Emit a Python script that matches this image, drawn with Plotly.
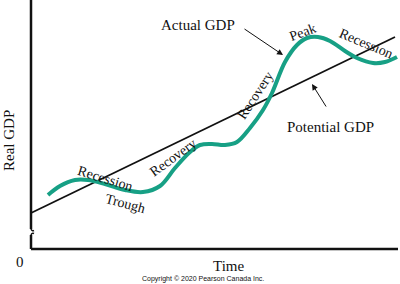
import plotly.graph_objects as go

# Data (time units along x, real GDP units along y; origin at the axes corner)
potential_x = [0, 364]
potential_y = [36, 212]

actual_x = [17, 29, 44, 57, 74, 94, 112, 129, 144, 159, 169, 181, 194, 206, 219, 232, 241, 254, 266, 276, 287, 299, 314, 326, 342, 354, 366]
actual_y = [54, 63, 69, 69, 65, 59, 57, 63, 81, 97, 104, 105, 104, 107, 121, 139, 156, 187, 204, 211, 212, 208, 198, 191, 186, 187, 192]

serif = "Liberation Serif"
ink = "#111111"
teal = "#17a085"

fig = go.Figure()
fig.add_trace(go.Scatter(x=potential_x, y=potential_y, mode="lines",
                         line=dict(color=ink, width=1.8), hoverinfo="skip"))
fig.add_trace(go.Scatter(x=actual_x, y=actual_y, mode="lines",
                         line=dict(color=teal, width=4, shape="spline", smoothing=1.0),
                         hoverinfo="skip"))

shapes = [
    dict(type="line", x0=0, y0=0, x1=367, y1=0, line=dict(color=ink, width=2.5)),
    dict(type="line", x0=0, y0=0, x1=0, y1=14, line=dict(color=ink, width=2.5)),
    dict(type="line", x0=0, y0=20, x1=0, y1=249, line=dict(color=ink, width=2.5)),
    dict(type="path", path="M 0 14 Q 1 16.5 3 15.5", line=dict(color=ink, width=1.5)),
    dict(type="path", path="M 0 20 Q 1 17.5 3 18.5", line=dict(color=ink, width=1.5)),
]

ann = []
def txt(x, y, s, size=14, angle=0, font=serif, color=ink, yanchor="middle"):
    ann.append(dict(x=x, y=y, text=s, showarrow=False, textangle=angle,
                    font=dict(family=font, size=size, color=color),
                    xanchor="center", yanchor=yanchor, borderpad=0))

txt(167, 224, "Actual GDP", 15)
txt(299, 122, "Potential GDP", 15)
txt(271, 217, "Peak", 14, -20)
txt(335, 206, "Recession", 14, 23)
txt(224, 154, "Recovery", 14, -57)
txt(142, 92, "Recovery", 14, -36)
txt(74, 71, "Recession", 14, 17)
txt(94, 46, "Trough", 14, 15)
txt(-11, -13, "0", 15)
txt(197, -16.5, "Time", 15)
txt(172, -35, "Copyright © 2020 Pearson Canada Inc.", 7, 0, "Liberation Sans", yanchor="bottom")
txt(-22, 108, "Real GDP", 15, -90)

ann.append(dict(x=252, y=194, ax=212, ay=221, xref="x", yref="y", axref="x", ayref="y",
                text="", showarrow=True, arrowhead=2, arrowsize=1.2, arrowwidth=1, arrowcolor=ink))
ann.append(dict(x=281, y=165, ax=296, ay=141, xref="x", yref="y", axref="x", ayref="y",
                text="", showarrow=True, arrowhead=2, arrowsize=1.2, arrowwidth=1, arrowcolor=ink))

fig.update_layout(
    width=400, height=284, margin=dict(l=0, r=0, t=0, b=0),
    paper_bgcolor="white", plot_bgcolor="white", showlegend=False,
    xaxis=dict(range=[-31, 369], visible=False, fixedrange=True),
    yaxis=dict(range=[-35, 249], visible=False, fixedrange=True),
    shapes=shapes, annotations=ann,
)
fig.write_html("out.html")
